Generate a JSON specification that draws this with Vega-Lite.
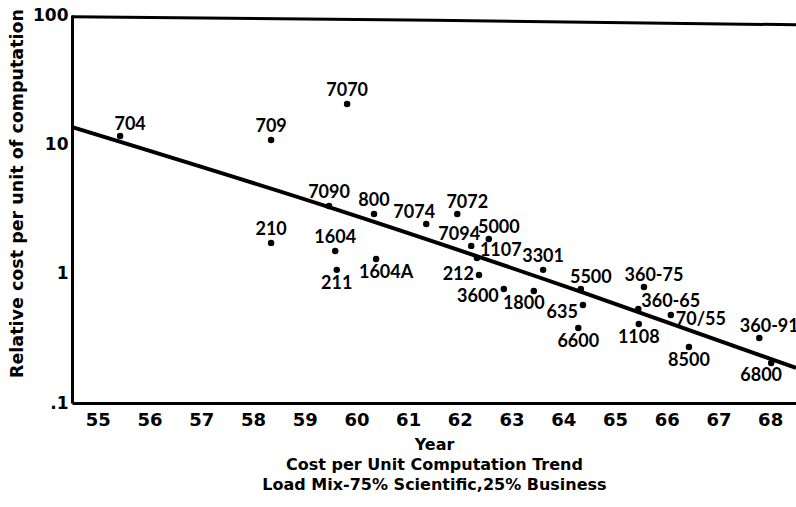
{
  "$schema": "https://vega.github.io/schema/vega-lite/v6.json",
  "width": 724,
  "height": 388,
  "autosize": "none",
  "padding": {"left": 72, "top": 15, "right": 0, "bottom": 104},
  "background": "white",
  "config": {"view": {"stroke": null}, "font": "DejaVu Sans"},
  "datasets": {
    "computers": [
      {"model": "704", "year": 55.43, "cost": 11.6, "side": "aboveRight"},
      {"model": "709", "year": 58.35, "cost": 10.8, "side": "above"},
      {"model": "7070", "year": 59.82, "cost": 20.5, "side": "above"},
      {"model": "7090", "year": 59.47, "cost": 3.33, "side": "above"},
      {"model": "800", "year": 60.34, "cost": 2.89, "side": "above"},
      {"model": "7074", "year": 61.35, "cost": 2.42, "side": "aboveLeft"},
      {"model": "210", "year": 58.35, "cost": 1.73, "side": "above"},
      {"model": "1604", "year": 59.59, "cost": 1.5, "side": "above"},
      {"model": "211", "year": 59.62, "cost": 1.07, "side": "below"},
      {"model": "1604A", "year": 60.38, "cost": 1.3, "side": "belowRight"},
      {"model": "7072", "year": 61.95, "cost": 2.89, "side": "aboveRight"},
      {"model": "7094", "year": 62.22, "cost": 1.64, "side": "aboveLeft"},
      {"model": "5000", "year": 62.56, "cost": 1.85, "side": "aboveRight"},
      {"model": "1107", "year": 62.33, "cost": 1.32, "side": "upperRight"},
      {"model": "212", "year": 62.37, "cost": 0.977, "side": "left"},
      {"model": "3600", "year": 62.85, "cost": 0.76, "side": "lowerLeft"},
      {"model": "1800", "year": 63.43, "cost": 0.735, "side": "belowLeft"},
      {"model": "3301", "year": 63.61, "cost": 1.07, "side": "above"},
      {"model": "5500", "year": 64.34, "cost": 0.76, "side": "aboveRight"},
      {"model": "635", "year": 64.38, "cost": 0.573, "side": "lowerLeft"},
      {"model": "6600", "year": 64.29, "cost": 0.38, "side": "below"},
      {"model": "360-75", "year": 65.56, "cost": 0.789, "side": "aboveRight"},
      {"model": "360-65", "year": 65.45, "cost": 0.533, "side": "upperRight"},
      {"model": "1108", "year": 65.46, "cost": 0.408, "side": "below"},
      {"model": "70/55", "year": 66.08, "cost": 0.479, "side": "right"},
      {"model": "8500", "year": 66.43, "cost": 0.271, "side": "below"},
      {"model": "360-91", "year": 67.79, "cost": 0.318, "side": "aboveRight"},
      {"model": "6800", "year": 68.02, "cost": 0.204, "side": "belowLeft"}
    ],
    "trend": [
      {"year": 54.5, "cost": 13.6},
      {"year": 59.47, "cost": 3.27},
      {"year": 64.36, "cost": 0.72},
      {"year": 68.5, "cost": 0.187}
    ],
    "frame": [
      {"year": 54.5, "cost": 97},
      {"year": 61.5, "cost": 91},
      {"year": 68.5, "cost": 84}
    ],
    "xticks": [
      {"year": 55.5}, {"year": 56.5}, {"year": 57.5}, {"year": 58.5}, {"year": 59.5},
      {"year": 60.5}, {"year": 61.5}, {"year": 62.5}, {"year": 63.5}, {"year": 64.5},
      {"year": 65.5}, {"year": 66.5}, {"year": 67.6}
    ],
    "yticks": [
      {"cost": 1}, {"cost": 10}
    ]
  },
  "encoding": {
    "x": {
      "field": "year",
      "type": "quantitative",
      "scale": {"domain": [54.5, 68.5], "nice": false, "zero": false},
      "axis": {
        "orient": "bottom",
        "values": [55, 56, 57, 58, 59, 60, 61, 62, 63, 64, 65, 66, 67, 68],
        "format": "d",
        "grid": false,
        "domainColor": "black",
        "domainWidth": 3,
        "ticks": false,
        "labelPadding": 8,
        "labelFont": "DejaVu Sans",
        "labelFontWeight": "bold",
        "labelFontSize": 18,
        "labelColor": "black",
        "labelFlush": false,
        "labelOverlap": false,
        "labelBound": false,
        "title": ["Year", "Cost per Unit Computation Trend", "Load Mix-75% Scientific,25% Business"],
        "titleFont": "DejaVu Sans",
        "titleFontWeight": "bold",
        "titleFontSize": 16,
        "titleLineHeight": 20,
        "titlePadding": 7,
        "titleColor": "black"
      }
    },
    "y": {
      "field": "cost",
      "type": "quantitative",
      "scale": {"type": "log", "domain": [0.1, 100], "nice": false},
      "axis": {
        "orient": "left",
        "values": [0.1, 1, 10, 100],
        "labelExpr": "datum.value < 0.5 ? '.1' : format(datum.value, 'd')",
        "grid": false,
        "domainColor": "black",
        "domainWidth": 3,
        "ticks": false,
        "labelPadding": 4,
        "labelFont": "DejaVu Sans",
        "labelFontWeight": "bold",
        "labelFontSize": 17,
        "labelColor": "black",
        "labelFlush": false,
        "labelOverlap": false,
        "labelBound": false,
        "title": "Relative cost per unit of computation",
        "titleFont": "DejaVu Sans",
        "titleFontWeight": "bold",
        "titleFontSize": 17.5,
        "titleY": 178,
        "titlePadding": 6,
        "titleColor": "black"
      }
    }
  },
  "layer": [
    {
      "data": {"name": "frame"},
      "mark": {"type": "line", "color": "black", "strokeWidth": 3}
    },
    {
      "data": {"name": "xticks"},
      "mark": {"type": "rule", "color": "black", "strokeWidth": 2.5},
      "encoding": {
        "y": {"datum": 0.1},
        "y2": {"datum": 0.1195}
      }
    },
    {
      "data": {"name": "yticks"},
      "mark": {"type": "rule", "color": "black", "strokeWidth": 2.5},
      "encoding": {
        "x": {"datum": 54.5},
        "x2": {"datum": 54.73}
      }
    },
    {
      "data": {"name": "trend"},
      "mark": {"type": "line", "color": "black", "strokeWidth": 4, "interpolate": "monotone"}
    },
    {
      "data": {"name": "computers"},
      "mark": {"type": "circle", "color": "black", "opacity": 1, "size": 42}
    },
    {
      "data": {"name": "computers"},
      "transform": [{"filter": "datum.side == 'above'"}],
      "mark": {"type": "text", "font": "Lato", "fontWeight": "bold", "fontSize": 18, "color": "black", "align": "center", "baseline": "middle", "dx": 0, "dy": -13},
      "encoding": {"text": {"field": "model"}}
    },
    {
      "data": {"name": "computers"},
      "transform": [{"filter": "datum.side == 'aboveRight'"}],
      "mark": {"type": "text", "font": "Lato", "fontWeight": "bold", "fontSize": 18, "color": "black", "align": "center", "baseline": "middle", "dx": 10, "dy": -11},
      "encoding": {"text": {"field": "model"}}
    },
    {
      "data": {"name": "computers"},
      "transform": [{"filter": "datum.side == 'aboveLeft'"}],
      "mark": {"type": "text", "font": "Lato", "fontWeight": "bold", "fontSize": 18, "color": "black", "align": "center", "baseline": "middle", "dx": -12, "dy": -11},
      "encoding": {"text": {"field": "model"}}
    },
    {
      "data": {"name": "computers"},
      "transform": [{"filter": "datum.side == 'below'"}],
      "mark": {"type": "text", "font": "Lato", "fontWeight": "bold", "fontSize": 18, "color": "black", "align": "center", "baseline": "middle", "dx": 0, "dy": 14},
      "encoding": {"text": {"field": "model"}}
    },
    {
      "data": {"name": "computers"},
      "transform": [{"filter": "datum.side == 'belowRight'"}],
      "mark": {"type": "text", "font": "Lato", "fontWeight": "bold", "fontSize": 18, "color": "black", "align": "center", "baseline": "middle", "dx": 10, "dy": 14},
      "encoding": {"text": {"field": "model"}}
    },
    {
      "data": {"name": "computers"},
      "transform": [{"filter": "datum.side == 'belowLeft'"}],
      "mark": {"type": "text", "font": "Lato", "fontWeight": "bold", "fontSize": 18, "color": "black", "align": "center", "baseline": "middle", "dx": -10, "dy": 13},
      "encoding": {"text": {"field": "model"}}
    },
    {
      "data": {"name": "computers"},
      "transform": [{"filter": "datum.side == 'right'"}],
      "mark": {"type": "text", "font": "Lato", "fontWeight": "bold", "fontSize": 18, "color": "black", "align": "left", "baseline": "middle", "dx": 5, "dy": 5},
      "encoding": {"text": {"field": "model"}}
    },
    {
      "data": {"name": "computers"},
      "transform": [{"filter": "datum.side == 'upperRight'"}],
      "mark": {"type": "text", "font": "Lato", "fontWeight": "bold", "fontSize": 18, "color": "black", "align": "left", "baseline": "middle", "dx": 3, "dy": -7},
      "encoding": {"text": {"field": "model"}}
    },
    {
      "data": {"name": "computers"},
      "transform": [{"filter": "datum.side == 'left'"}],
      "mark": {"type": "text", "font": "Lato", "fontWeight": "bold", "fontSize": 18, "color": "black", "align": "right", "baseline": "middle", "dx": -5, "dy": 0},
      "encoding": {"text": {"field": "model"}}
    },
    {
      "data": {"name": "computers"},
      "transform": [{"filter": "datum.side == 'lowerLeft'"}],
      "mark": {"type": "text", "font": "Lato", "fontWeight": "bold", "fontSize": 18, "color": "black", "align": "right", "baseline": "middle", "dx": -5, "dy": 8},
      "encoding": {"text": {"field": "model"}}
    }
  ]
}
